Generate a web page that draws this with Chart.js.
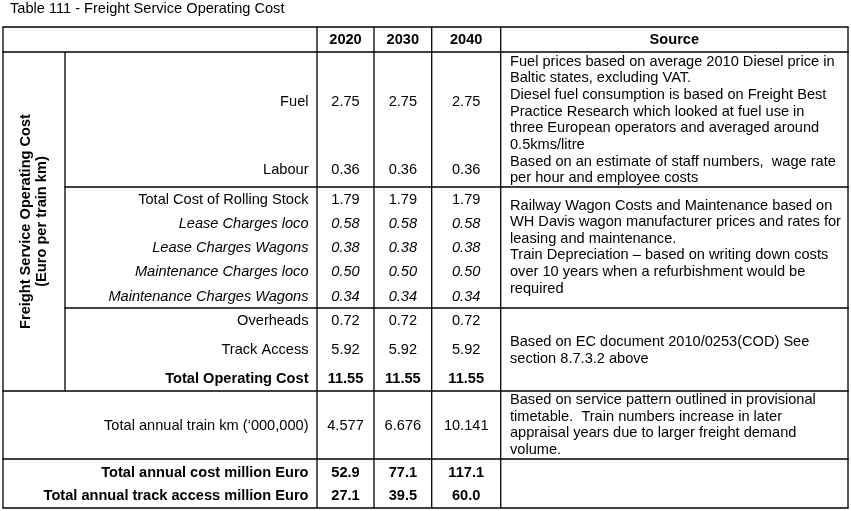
<!DOCTYPE html>
<html>
<head>
<meta charset="utf-8">
<script src="https://cdn.jsdelivr.net/npm/chart.js@4/dist/chart.umd.min.js"></script>
<style>
  html, body { margin: 0; padding: 0; background: #fff; }
  #wrap { width: 851px; height: 511px; }
</style>
</head>
<body>
<div id="wrap"><canvas id="tbl" width="851" height="511"></canvas></div>
<script>
const title = "Table 111 - Freight Service Operating Cost";
const years = ["2020", "2030", "2040"];
const groupLabel = ["Freight Service Operating Cost", "(Euro per train km)"];
const rowLabels = [
  "Fuel", "Labour", "Total Cost of Rolling Stock", "Lease Charges loco",
  "Lease Charges Wagons", "Maintenance Charges loco", "Maintenance Charges Wagons",
  "Overheads", "Track Access", "Total Operating Cost",
  "Total annual train km (\u2018000,000)", "Total annual cost million Euro",
  "Total annual track access million Euro"
];
const values2020 = [2.75, 0.36, 1.79, 0.58, 0.38, 0.50, 0.34, 0.72, 5.92, 11.55, 4.577, 52.9, 27.1];
const values2030 = [2.75, 0.36, 1.79, 0.58, 0.38, 0.50, 0.34, 0.72, 5.92, 11.55, 6.676, 77.1, 39.5];
const values2040 = [2.75, 0.36, 1.79, 0.58, 0.38, 0.50, 0.34, 0.72, 5.92, 11.55, 10.141, 117.1, 60.0];
const rowDecimals = [2, 2, 2, 2, 2, 2, 2, 2, 2, 2, 3, 1, 1];
const rowStyle = ["", "", "", "italic", "italic", "italic", "italic", "", "", "bold", "", "bold", "bold"];

const sourceFuel = [
  "Fuel prices based on average 2010 Diesel price in",
  "Baltic states, excluding VAT.",
  "Diesel fuel consumption is based on Freight Best",
  "Practice Research which looked at fuel use in",
  "three European operators and averaged around",
  "0.5kms/litre"
];
const sourceLabour = [
  "Based on an estimate of staff numbers,  wage rate",
  "per hour and employee costs"
];
const sourceRolling = [
  "Railway Wagon Costs and Maintenance based on",
  "WH Davis wagon manufacturer prices and rates for",
  "leasing and maintenance.",
  "Train Depreciation \u2013 based on writing down costs",
  "over 10 years when a refurbishment would be",
  "required"
];
const sourceTrack = [
  "Based on EC document 2010/0253(COD) See",
  "section 8.7.3.2 above"
];
const sourceTrainKm = [
  "Based on service pattern outlined in provisional",
  "timetable.  Train numbers increase in later",
  "appraisal years due to larger freight demand",
  "volume."
];

// layout (scale units = pixels of the reference)
const colEdges = [3, 65, 317, 374, 431.7, 500.7, 848];
const rowY = [102, 170, 200, 224, 248, 272, 297, 321, 350, 379, 426, 473, 496];
const headerY = 40;
const hLines = [[27, 3, 848], [52, 3, 848], [187, 65, 848], [308, 65, 848], [391, 3, 848], [459, 3, 848], [508, 3, 848]];
const vLines = [[3, 27, 508], [65, 52, 391], [317, 27, 508], [374, 27, 508], [431.7, 27, 508], [500.7, 27, 508], [848, 27, 508]];
const notes = [[sourceFuel, 61.7], [sourceLabour, 161.7], [sourceRolling, 205.5], [sourceTrack, 342], [sourceTrainKm, 400]];
const noteLine = 16.6;
const FONT = "'Liberation Sans', Arial, sans-serif";
const SIZE = 14.6;

const colCenter = (i) => (colEdges[i + 2] + colEdges[i + 3]) / 2;
const series = [values2020, values2030, values2040];

const tablePlugin = {
  id: "tablePlugin",
  afterDraw(chart) {
    const { ctx, scales: { x, y } } = chart;
    const px = (v) => x.getPixelForValue(v);
    const py = (v) => y.getPixelForValue(v);
    const font = (style) => `${style} ${SIZE}px ${FONT}`;
    ctx.save();
    ctx.fillStyle = "#000";
    ctx.strokeStyle = "#000";
    ctx.lineWidth = 1.3;

    hLines.forEach(([yy, x0, x1]) => {
      ctx.beginPath();
      ctx.moveTo(px(x0) - 0.6, py(yy));
      ctx.lineTo(px(x1) + 0.6, py(yy));
      ctx.stroke();
    });
    vLines.forEach(([xx, y0, y1]) => {
      ctx.beginPath();
      ctx.moveTo(px(xx), py(y0));
      ctx.lineTo(px(xx), py(y1));
      ctx.stroke();
    });

    ctx.textBaseline = "middle";
    ctx.textAlign = "left";
    ctx.font = font("");
    ctx.fillText(title, px(10), py(9));

    ctx.font = font("bold");
    ctx.textAlign = "center";
    years.forEach((yr, i) => ctx.fillText(yr, px(colCenter(i)), py(headerY)));
    ctx.fillText("Source", px((colEdges[5] + colEdges[6]) / 2), py(headerY));

    rowLabels.forEach((lab, j) => {
      ctx.font = font(rowStyle[j]);
      ctx.textAlign = "right";
      ctx.fillText(lab, px(308.5), py(rowY[j]));
    });

    chart.data.datasets.forEach((ds, i) => {
      chart.getDatasetMeta(i).data.forEach((pt, j) => {
        ctx.font = font(rowStyle[j]);
        ctx.textAlign = "center";
        ctx.fillText(series[i][j].toFixed(rowDecimals[j]), pt.x, pt.y);
      });
    });

    ctx.font = font("");
    ctx.textAlign = "left";
    notes.forEach(([lines, y0]) => {
      lines.forEach((t, k) => ctx.fillText(t, px(510), py(y0 + k * noteLine)));
    });

    ctx.font = font("bold");
    ctx.textAlign = "center";
    ctx.translate(px(34), py(221.5));
    ctx.rotate(-Math.PI / 2);
    ctx.fillText(groupLabel[0], 0, -8.3);
    ctx.fillText(groupLabel[1], 0, 8.3);
    ctx.restore();
  }
};

new Chart(document.getElementById("tbl"), {
  type: "scatter",
  data: {
    datasets: series.map((vals, i) => ({
      label: years[i],
      data: vals.map((v, j) => ({ x: colCenter(i), y: rowY[j], v })),
      pointRadius: 0,
      pointHoverRadius: 0
    }))
  },
  options: {
    responsive: false,
    animation: false,
    events: [],
    layout: { padding: 0 },
    plugins: { legend: { display: false }, tooltip: { enabled: false } },
    scales: {
      x: { type: "linear", min: 0, max: 851, display: false },
      y: { type: "linear", min: 0, max: 511, reverse: true, display: false }
    }
  },
  plugins: [tablePlugin]
});
</script>
</body>
</html>
